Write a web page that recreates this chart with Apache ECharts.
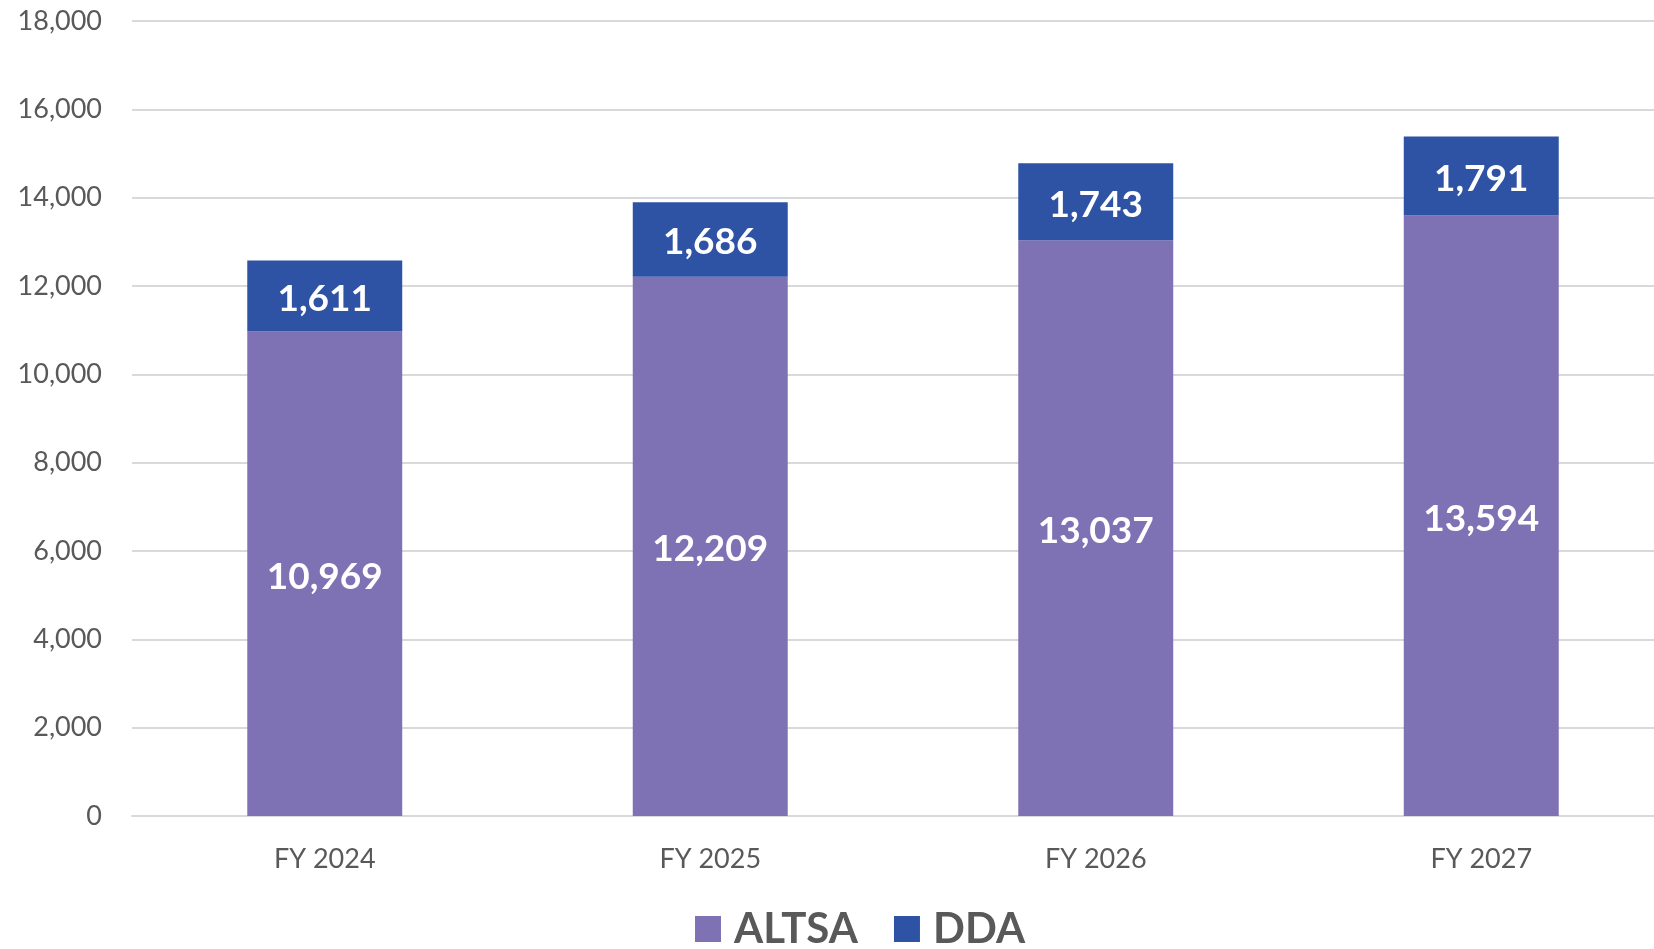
<!DOCTYPE html>
<html>
<head>
<meta charset="utf-8">
<script src="https://cdn.jsdelivr.net/npm/echarts@6/dist/echarts.min.js"></script>
<style>
  html, body { margin: 0; padding: 0; background: #fff; }
  #chart { width: 1654px; height: 949px; }
</style>
</head>
<body>
<div id="chart"></div>
<script>
const categories = ['FY 2024', 'FY 2025', 'FY 2026', 'FY 2027']
const altsa = [10969, 12209, 13037, 13594]
const dda = [1611, 1686, 1743, 1791]
const yTicks = { min: 0, max: 18000, interval: 2000 }

const fontFamily = 'Lato, "Open Sans", sans-serif'

const labelStyle = {
  show: true,
  position: 'inside',
  offset: [0, 3],
  color: '#fff',
  fontFamily: fontFamily,
  fontWeight: 'bold',
  fontSize: 37,
  formatter: p => p.value.toLocaleString('en-US')
}

const option = {
  animation: false,
  // plot area runs a bit past the right edge, like the original (cropped)
  grid: { left: 132, width: 1542, top: 21, bottom: 133, containLabel: false, outerBoundsMode: 'none' },
  legend: {
    bottom: -6,
    left: 690,
    itemWidth: 26,
    itemHeight: 26,
    itemGap: 36,
    icon: 'rect',
    textStyle: { fontFamily: fontFamily, fontWeight: 'bold', fontSize: 42, color: '#595959', padding: [0, 0, 0, 8] },
    data: ['ALTSA', 'DDA']
  },
  xAxis: {
    type: 'category',
    data: categories,
    axisTick: { show: false },
    axisLine: { lineStyle: { color: '#d9d9d9', width: 2 } },
    axisLabel: { color: '#595959', fontFamily: fontFamily, fontSize: 27, margin: 30 }
  },
  yAxis: {
    type: 'value',
    min: yTicks.min,
    max: yTicks.max,
    interval: yTicks.interval,
    axisLabel: {
      color: '#595959', fontFamily: fontFamily, fontSize: 27, margin: 30,
      formatter: v => v.toLocaleString('en-US')
    },
    splitLine: { lineStyle: { color: '#d9d9d9', width: 2 } }
  },
  series: [
    {
      name: 'ALTSA',
      type: 'bar',
      stack: 'total',
      barWidth: '40.2%',
      data: altsa,
      itemStyle: { color: '#7e72b4' },
      label: labelStyle
    },
    {
      name: 'DDA',
      type: 'bar',
      stack: 'total',
      data: dda,
      itemStyle: { color: '#2e52a4' },
      label: labelStyle
    }
  ]
}

const chart = echarts.init(document.getElementById('chart'))
chart.setOption(option)
</script>
</body>
</html>
